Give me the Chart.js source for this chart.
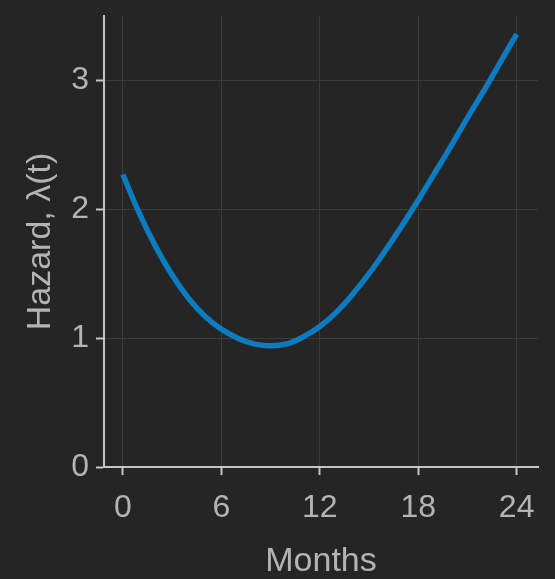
<!DOCTYPE html>
<html>
<head>
<meta charset="utf-8">
<script src="https://cdn.jsdelivr.net/npm/chart.js@4/dist/chart.umd.min.js"></script>
<style>
  html, body { margin: 0; padding: 0; background: #252525; }
  #wrap { width: 555px; height: 579px; }
</style>
</head>
<body>
<div id="wrap"><canvas id="c" width="555" height="579"></canvas></div>
<script>
const months = [0,1,2,3,4,5,6,7,8,9,10,11,12,13,14,15,16,17,18,19,20,21,22,23,24];
const hazard = [2.27,1.97,1.71,1.49,1.31,1.17,1.07,1.00,0.955,0.94,0.955,1.01,1.09,1.20,1.34,1.50,1.68,1.87,2.07,2.28,2.49,2.71,2.92,3.14,3.36];
const xTicks = [0,6,12,18,24];
const yTicks = [0,1,2,3];
const xLabel = 'Months';
const yLabel = 'Hazard, \u03BB(t)';

const textColor = '#b4b4b4';
const spineColor = '#c4c4c4';
const gridColor = '#3b3b3b';
const fontFam = '"Liberation Sans", Arial, Helvetica, sans-serif';

const points = months.map((m, i) => ({x: m, y: hazard[i]}));

new Chart(document.getElementById('c'), {
  type: 'line',
  data: {
    datasets: [{
      data: points,
      borderColor: '#0d7bbf',
      borderWidth: 5.5,
      pointRadius: 0,
      tension: 0.4,
      fill: false
    }]
  },
  options: {
    responsive: false,
    devicePixelRatio: 1,
    animation: false,
    layout: { padding: { top: 16, right: 17, left: 0, bottom: 0 } },
    plugins: { legend: { display: false }, tooltip: { enabled: false } },
    scales: {
      x: {
        type: 'linear',
        min: -1.15,
        max: 25.3,
        afterBuildTicks: (s) => { s.ticks = xTicks.map(v => ({value: v})); },
        afterFit: (s) => { s.height = 112; s.paddingLeft = 0; s.paddingRight = 0; },
        grid: { color: gridColor, lineWidth: 1, tickColor: spineColor, tickLength: 8, tickWidth: 2, drawTicks: true },
        border: { display: true, color: spineColor, width: 2 },
        ticks: { color: textColor, font: { family: fontFam, size: 32, lineHeight: 1.2 }, padding: 14, maxRotation: 0, autoSkip: false },
        title: { display: true, text: xLabel, color: textColor, font: { family: fontFam, size: 34, lineHeight: 1 }, padding: { top: 0, bottom: 0 } }
      },
      y: {
        type: 'linear',
        min: 0,
        max: 3.5,
        afterBuildTicks: (s) => { s.ticks = yTicks.map(v => ({value: v})); },
        afterFit: (s) => { s.width = 104; s.paddingTop = 0; s.paddingBottom = 0; },
        grid: { color: gridColor, lineWidth: 1, tickColor: spineColor, tickLength: 8, tickWidth: 2, drawTicks: true },
        border: { display: true, color: spineColor, width: 2 },
        ticks: { color: textColor, font: { family: fontFam, size: 32 }, padding: 7, autoSkip: false },
        title: { display: true, text: yLabel, color: textColor, font: { family: fontFam, size: 34, lineHeight: 1 }, padding: { top: 24, bottom: 0 } }
      }
    }
  }
});
</script>
</body>
</html>
